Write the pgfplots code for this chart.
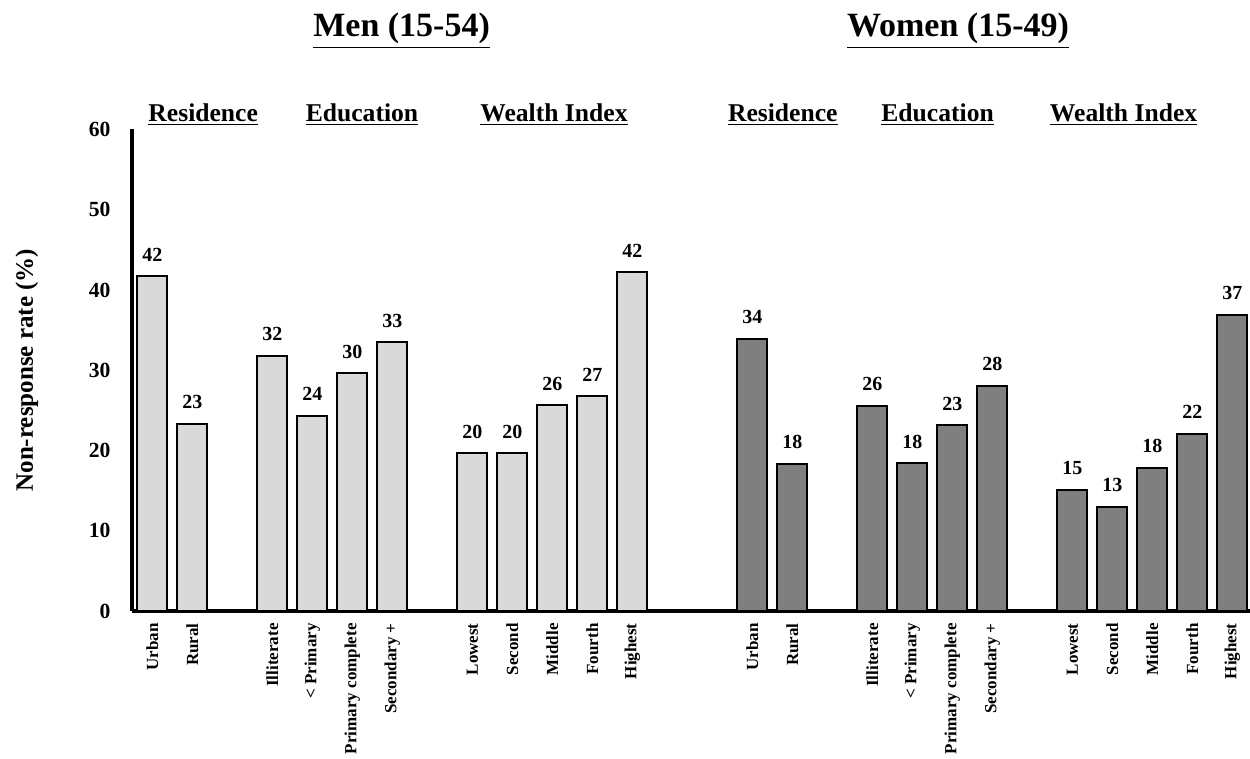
\documentclass[border=0pt]{standalone}
\usepackage{fontspec}
\setmainfont{Liberation Serif}
\usepackage{pgfplots}
\usepackage{pgfplotstable}
\pgfplotsset{compat=1.18}
\definecolor{menfill}{HTML}{D9D9D9}
\definecolor{womenfill}{HTML}{7F7F7F}

% positions: groups separated by empty slots
\pgfplotstableread{
x  y     lab
0  41.74 42
1  23.30 23
3  31.81 32
4  24.30 24
5  29.62 30
6  33.48 33
8  19.65 20
9  19.65 20
10 25.63 26
11 26.75 27
12 42.20 42
}\men

\pgfplotstableread{
x  y     lab
15 33.89 34
16 18.32 18
18 25.55 26
19 18.40 18
20 23.14 23
21 28.04 28
23 15.12 15
24 12.96 13
25 17.82 18
26 22.06 22
27 36.89 37
}\women

\newcommand{\fs}[1]{\fontsize{#1}{#1}\selectfont\bfseries}

\begin{document}
\begin{tikzpicture}
\path[use as bounding box] (-66pt,-74pt) rectangle (559pt,305.5pt);
\begin{axis}[
    at={(0,0)}, anchor=south west,
    scale only axis,
    width=559pt, height=240.75pt,
    clip=false,
    xmin=-0.51, xmax=27.44,
    ymin=0, ymax=60,
    axis x line=bottom, axis y line=left,
    axis line style={-, line width=1.75pt},
    major tick length=0pt,
    ytick={0,10,...,60},
    xtick={0,1,3,4,5,6,8,9,10,11,12,15,16,18,19,20,21,23,24,25,26,27},
    xticklabels={Urban,Rural,Illiterate,{< Primary},{Primary complete},{Secondary +},
        Lowest,Second,Middle,Fourth,Highest,
        Urban,Rural,Illiterate,{< Primary},{Primary complete},{Secondary +},
        Lowest,Second,Middle,Fourth,Highest},
    /pgf/number format/assume math mode=true,
    yticklabel style={font=\fs{10.8pt}, inner sep=0pt, xshift=-10.6pt},
    xticklabel style={font=\fs{8.5pt}, rotate=90, anchor=east, inner sep=0pt},
    xticklabel shift=6pt,
]
\addplot[ybar, bar width=15pt, fill=menfill, draw=black, line width=1pt,
    point meta=explicit symbolic,
    nodes near coords, nodes near coords style={font=\fs{10pt}, inner sep=0pt, yshift=7pt}]
    table[x=x, y=y, meta=lab] {\men};
\addplot[ybar, bar width=15pt, fill=womenfill, draw=black, line width=1pt,
    point meta=explicit symbolic,
    nodes near coords, nodes near coords style={font=\fs{10pt}, inner sep=0pt, yshift=7pt}]
    table[x=x, y=y, meta=lab] {\women};

% titles and group headers
\node[anchor=base, font=\fs{17pt}] at (axis cs:6.23,71.53) {\underline{Men (15-54)}};
\node[anchor=base, font=\fs{17pt}] at (axis cs:20.14,71.53) {\underline{Women (15-49)}};
\node[anchor=base, font=\fs{12.8pt}] at (axis cs:1.27,60.97) {\underline{Residence}};
\node[anchor=base, font=\fs{12.8pt}] at (axis cs:5.24,60.97) {\underline{Education}};
\node[anchor=base, font=\fs{12.8pt}] at (axis cs:10.04,60.97) {\underline{Wealth Index}};
\node[anchor=base, font=\fs{12.8pt}] at (axis cs:15.76,60.97) {\underline{Residence}};
\node[anchor=base, font=\fs{12.8pt}] at (axis cs:19.63,60.97) {\underline{Education}};
\node[anchor=base, font=\fs{12.8pt}] at (axis cs:24.28,60.97) {\underline{Wealth Index}};
\node[anchor=base, rotate=90, font=\fs{12.5pt}] at (axis cs:-2.99,30) {Non-response rate (\%)};
\end{axis}
\end{tikzpicture}
\end{document}
